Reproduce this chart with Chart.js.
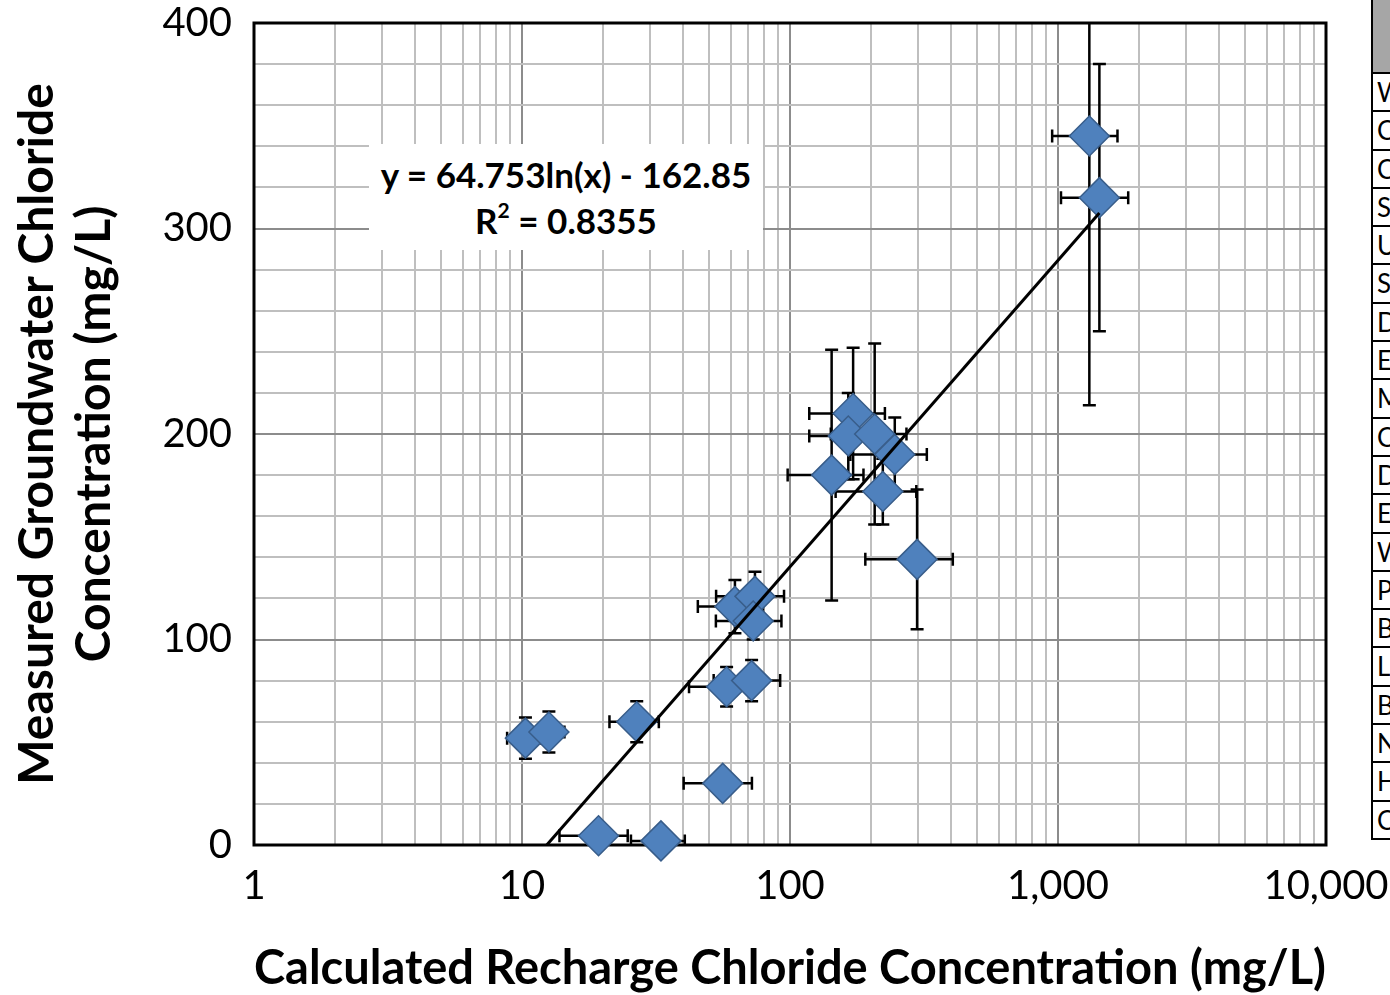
<!DOCTYPE html>
<html><head><meta charset="utf-8">
<script src="https://cdn.jsdelivr.net/npm/chart.js@4.4.1/dist/chart.umd.min.js"></script>
<style>
html,body{margin:0;padding:0;width:1390px;height:995px;overflow:hidden;background:#fff;}
#wrap{position:relative;width:1390px;height:995px;overflow:hidden;}
#c{position:absolute;left:0;top:0;}
#eq{position:absolute;left:369px;top:144px;width:394px;height:106px;background:#fff;font-family:Lato,sans-serif;font-weight:bold;font-size:35px;text-align:center;color:#000;display:flex;flex-direction:column;justify-content:center;line-height:46px;}
#eq sup{font-size:0.6em;line-height:0;vertical-align:0.75em;}
#tbl{position:absolute;left:1371px;top:0;width:80px;font-family:Lato,sans-serif;font-size:26px;color:#000;}
#tbl .hd{height:74px;background:#a6a6a6;border-left:2px solid #000;border-bottom:2px solid #000;box-sizing:border-box;}
#tbl .rw{height:38.3px;border-left:2px solid #000;border-bottom:2px solid #000;box-sizing:border-box;padding-left:4px;line-height:36px;white-space:nowrap;overflow:hidden;background:#fff;}
</style>
</head><body>
<div id="wrap">
<canvas id="c" width="1390" height="995"></canvas>
<div id="eq"><div>y = 64.753ln(x) - 162.85</div><div>R<sup>2</sup> = 0.8355</div></div>
<div id="tbl"></div>
</div>
<script>
// ---- data ----
const xVals = [10.3, 12.6, 26.8, 19.3, 33.0, 56.1, 58.0, 71.9, 62.3, 74.0, 72.9, 143, 172, 165, 207, 246, 222, 298, 1309, 1427];
const yVals = [52, 55, 60, 4.5, 2, 30, 77, 80, 116, 121, 109, 180, 210, 199, 200, 190, 172, 139, 345, 315];
const xErr  = [1.5, 1.8, 5.6, 5.5, 7.5, 16, 16, 20, 17, 21, 20, 45, 54, 47, 65, 78, 74, 107, 358, 401];
const yErr  = [10, 10, 10, 2, 1.5, 3, 9.6, 10, 13, 12, 9, 61, 32, 21, 44, 18, 16, 34, 131, 65];
const trendX = [12.37, 1427];
const trendY = [0, 307.5];
const xDecades = [1, 10, 100, 1000, 10000];
const xTickLabels = ['1', '10', '100', '1,000', '10,000'];
const yTickValues = [0, 100, 200, 300, 400];
const yTickLabels = ['0', '100', '200', '300', '400'];
const rowLabels = ['W','C','C','S','U','S','D','E','M','C','D','E','W','P','B','L','B','N','H','C'];

// table at right (cut-off in reference)
const tbl = document.getElementById('tbl');
let html = '<div class="hd"></div>';
rowLabels.forEach(l => { html += '<div class="rw">' + l + '</div>'; });
tbl.innerHTML = html;

// grid ticks for log axis (1..9 per decade)
const gridX = [];
for (let d = 0; d < xDecades.length - 1; d++) {
  for (let m = 1; m < 10; m++) gridX.push(m * xDecades[d]);
}
gridX.push(xDecades[xDecades.length - 1]);

const errorBars = {
  id: 'errorBars',
  beforeDatasetsDraw(chart) {
    const ctx = chart.ctx, a = chart.chartArea;
    ctx.save();
    ctx.strokeStyle = '#000';
    ctx.lineWidth = 3;
    ctx.strokeRect(a.left, a.top, a.right - a.left, a.bottom - a.top);
    ctx.restore();
  },
  beforeDatasetDraw(chart, args) {
    if (args.index !== 0) return;
    const ctx = chart.ctx, xs = chart.scales.x, ys = chart.scales.y, a = chart.chartArea;
    ctx.save();
    ctx.beginPath();
    ctx.rect(a.left, a.top, a.right - a.left, a.bottom - a.top);
    ctx.clip();
    ctx.strokeStyle = '#000';
    ctx.lineWidth = 2.5;
    const cap = 6.5;
    xVals.forEach((xv, i) => {
      const px = xs.getPixelForValue(xv), py = ys.getPixelForValue(yVals[i]);
      const x1 = xs.getPixelForValue(xv - xErr[i]), x2 = xs.getPixelForValue(xv + xErr[i]);
      const y1 = ys.getPixelForValue(yVals[i] + yErr[i]), y2 = ys.getPixelForValue(yVals[i] - yErr[i]);
      ctx.beginPath();
      ctx.moveTo(x1, py); ctx.lineTo(x2, py);
      ctx.moveTo(x1, py - cap); ctx.lineTo(x1, py + cap);
      ctx.moveTo(x2, py - cap); ctx.lineTo(x2, py + cap);
      ctx.moveTo(px, y1); ctx.lineTo(px, y2);
      ctx.moveTo(px - cap, y1); ctx.lineTo(px + cap, y1);
      ctx.moveTo(px - cap, y2); ctx.lineTo(px + cap, y2);
      ctx.stroke();
    });
    ctx.restore();
  }
};

new Chart(document.getElementById('c'), {
  type: 'scatter',
  data: {
    datasets: [
      {
        label: 'Measured',
        data: xVals.map((x, i) => ({x: x, y: yVals[i]})),
        pointStyle: 'rectRot',
        pointRadius: 20,
        pointHoverRadius: 20,
        backgroundColor: '#4F81BD',
        borderColor: '#385D8A',
        borderWidth: 1.5,
        order: 1,
        clip: false
      },
      {
        label: 'Trend',
        data: trendX.map((x, i) => ({x: x, y: trendY[i]})),
        showLine: true,
        borderColor: '#000',
        borderWidth: 3,
        pointRadius: 0,
        fill: false,
        order: 0
      }
    ]
  },
  options: {
    responsive: false,
    animation: false,
    devicePixelRatio: 1,
    layout: {padding: {left: 0, top: 23, right: 64, bottom: 0}},
    plugins: {legend: {display: false}, tooltip: {enabled: false}},
    scales: {
      x: {
        type: 'logarithmic',
        position: 'bottom',
        min: 1, max: 10000,
        afterBuildTicks: s => { s.ticks = gridX.map(v => ({value: v})); },
        afterFit: s => { s.height = 150; s.paddingLeft = 0; s.paddingRight = 0; },
        grid: {
          color: c => (c.tick && xDecades.includes(c.tick.value)) ? '#8c8c8c' : '#bfbfbf',
          lineWidth: 2,
          drawTicks: false
        },
        border: {display: false},
        ticks: {
          autoSkip: false, maxRotation: 0, minRotation: 0, padding: 21,
          color: '#000',
          font: {family: 'Lato', size: 40, lineHeight: 1},
          callback: v => { const i = xDecades.indexOf(v); return i >= 0 ? xTickLabels[i] : ''; }
        },
        title: {
          display: true,
          text: 'Calculated Recharge Chloride Concentration (mg/L)',
          color: '#000',
          font: {family: 'Lato', weight: 'bold', size: 47, lineHeight: 1.1},
          padding: {top: 0, bottom: 0}
        }
      },
      y: {
        type: 'linear',
        min: 0, max: 400,
        afterFit: s => { s.width = 254; s.paddingTop = 0; s.paddingBottom = 0; },
        grid: {
          color: c => (c.tick && yTickValues.includes(c.tick.value)) ? '#8c8c8c' : '#bfbfbf',
          lineWidth: 2,
          drawTicks: false
        },
        border: {display: false},
        ticks: {
          stepSize: 20, autoSkip: false, padding: 22,
          color: '#000',
          font: {family: 'Lato', size: 40, lineHeight: 1},
          callback: v => { const i = yTickValues.indexOf(v); return i >= 0 ? yTickLabels[i] : ''; }
        },
        title: {
          display: true,
          text: ['Measured Groundwater Chloride', 'Concentration (mg/L)'],
          color: '#000',
          font: {family: 'Lato', weight: 'bold', size: 48, lineHeight: 57 / 48},
          padding: {top: 9.5, bottom: 0}
        }
      }
    }
  },
  plugins: [errorBars]
});
</script>
</body></html>
